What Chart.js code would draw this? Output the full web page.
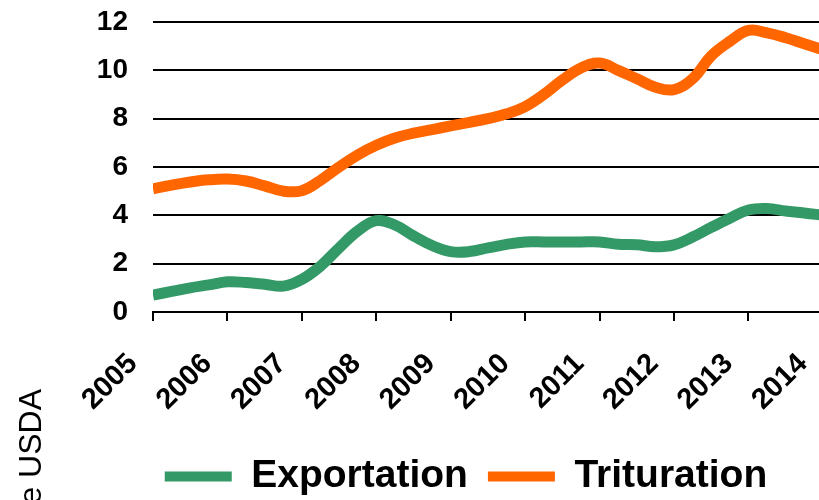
<!DOCTYPE html>
<html>
<head>
<meta charset="utf-8">
<script src="https://cdn.jsdelivr.net/npm/chart.js@4.4.1/dist/chart.umd.min.js"></script>
<style>
  html, body { margin: 0; padding: 0; overflow: hidden; background: #fff; }
  #wrap { width: 840px; height: 506px; position: relative; }
</style>
</head>
<body>
<div id="wrap"><canvas id="grafico"></canvas></div>
<script>
// trimestres (anos fracionados)
const periodos = [2005, 2005.25, 2005.5, 2005.75, 2006, 2006.25, 2006.5, 2006.75,
  2007, 2007.25, 2007.5, 2007.75, 2008, 2008.25, 2008.5, 2008.75,
  2009, 2009.25, 2009.5, 2009.75, 2010, 2010.25, 2010.5, 2010.75,
  2011, 2011.25, 2011.5, 2011.75, 2012, 2012.25, 2012.5, 2012.75,
  2013, 2013.25, 2013.5, 2013.75, 2014, 2014.25];

const exportation = [0.7, 0.85, 1.0, 1.12, 1.25, 1.22, 1.15, 1.07,
  1.35, 1.9, 2.65, 3.35, 3.78, 3.6, 3.15, 2.75,
  2.5, 2.5, 2.65, 2.8, 2.9, 2.9, 2.9, 2.9,
  2.9, 2.8, 2.78, 2.7, 2.78, 3.1, 3.5, 3.88,
  4.22, 4.28, 4.18, 4.1, 4.0, 3.9];

const trituration = [5.1, 5.25, 5.38, 5.47, 5.5, 5.42, 5.22, 5.0,
  5.02, 5.45, 6.0, 6.5, 6.9, 7.2, 7.4, 7.55,
  7.7, 7.85, 8.0, 8.2, 8.5, 9.0, 9.6, 10.1,
  10.3, 10.0, 9.65, 9.3, 9.2, 9.65, 10.6, 11.2,
  11.65, 11.55, 11.35, 11.1, 10.85, 10.6];

const anosEixo = [2005, 2006, 2007, 2008, 2009, 2010, 2011, 2012, 2013, 2014];
const valoresEixoY = [0, 2, 4, 6, 8, 10, 12];

const fonte = "'Liberation Sans', Arial, sans-serif";

const textoFonte = {
  id: 'textoFonte',
  afterDraw(chart) {
    const ctx = chart.ctx;
    ctx.save();
    ctx.translate(41, 389);
    ctx.rotate(-Math.PI / 2);
    ctx.font = `32px ${fonte}`;
    ctx.fillStyle = '#000';
    ctx.textAlign = 'right';
    ctx.textBaseline = 'alphabetic';
    ctx.fillText('Source : données de USDA', 0, 0);
    ctx.restore();
  }
};

new Chart(document.getElementById('grafico'), {
  type: 'line',
  data: {
    datasets: [{
      label: 'Exportation',
      data: periodos.map((p, i) => ({ x: p, y: exportation[i] })),
      borderColor: '#339966',
      backgroundColor: '#339966',
      borderWidth: 11,
      pointRadius: 0,
      tension: 0.4
    }, {
      label: 'Trituration',
      data: periodos.map((p, i) => ({ x: p, y: trituration[i] })),
      borderColor: '#FF6600',
      backgroundColor: '#FF6600',
      borderWidth: 11,
      pointRadius: 0,
      tension: 0.4
    }]
  },
  options: {
    responsive: true,
    maintainAspectRatio: false,
    animation: false,
    layout: { padding: { left: 92, top: 22, right: 0, bottom: 0 } },
    plugins: {
      tooltip: { enabled: false },
      legend: {
        position: 'bottom',
        labels: {
          color: '#000',
          font: { family: fonte, size: 39, weight: 'bold' },
          boxWidth: 67,
          boxHeight: 10,
          padding: 20,
          generateLabels: chart => chart.data.datasets.map((ds, i) => ({
            text: ds.label,
            fillStyle: ds.borderColor,
            strokeStyle: ds.borderColor,
            lineWidth: 0,
            datasetIndex: i
          }))
        }
      }
    },
    scales: {
      x: {
        type: 'linear',
        min: 2005,
        max: 2014.23,
        afterBuildTicks: s => { s.ticks = anosEixo.map(v => ({ value: v })); },
        afterFit: s => { s.height = 125; s.paddingLeft = 0; s.paddingRight = 0; },
        grid: { drawOnChartArea: false, drawTicks: true, tickLength: 9, color: '#000', lineWidth: 2 },
        border: { display: true, color: '#000', width: 2 },
        ticks: {
          color: '#000',
          font: { family: fonte, size: 29, weight: 'bold' },
          minRotation: 45,
          maxRotation: 45,
          padding: 26,
          labelOffset: -20,
          autoSkip: false,
          callback: v => String(v)
        }
      },
      y: {
        min: 0,
        max: 12,
        afterBuildTicks: s => { s.ticks = valoresEixoY.map(v => ({ value: v })); },
        afterFit: s => { s.width = 61; s.paddingTop = 0; s.paddingBottom = 0; },
        grid: { drawTicks: false, color: '#000', lineWidth: 2 },
        border: { display: false },
        ticks: {
          color: '#000',
          font: { family: fonte, size: 28, weight: 'bold' },
          padding: 25
        }
      }
    }
  },
  plugins: [textoFonte]
});
</script>
</body>
</html>
